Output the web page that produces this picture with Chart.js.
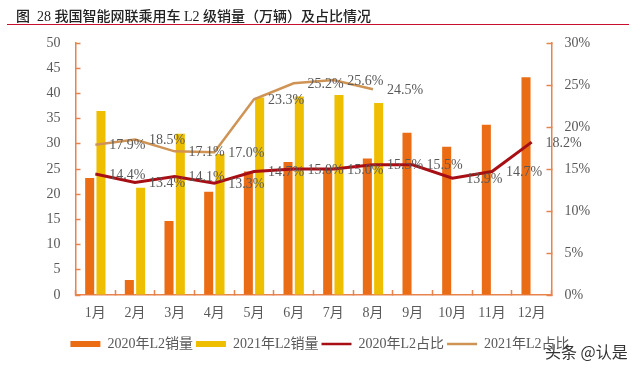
<!DOCTYPE html>
<html>
<head>
<meta charset="utf-8">
<script src="https://cdn.jsdelivr.net/npm/chart.js@4"></script>
<style>
  html, body { margin: 0; padding: 0; background: #fff; }
  #wrap { position: relative; width: 640px; height: 371px; overflow: hidden; }
  #chart { position: absolute; left: 0; top: 0; }
  #title {
    position: absolute; left: 16px; top: 5px; white-space: pre;
    font: 500 14px "Liberation Serif", "Noto Sans CJK SC"; color: #222;
  }
  #rule { position: absolute; left: 7px; top: 24px; width: 622px; height: 1px; background: #c8102e; }
  #mark {
    position: absolute; left: 545px; top: 339px; white-space: pre;
    font: 16px "Noto Sans CJK SC"; color: #333;
    text-shadow: 0 0 2px #fff;
  }
</style>
</head>
<body>
<div id="wrap">
  <canvas id="chart" width="640" height="371"></canvas>
  <div id="title">图  28 我国智能网联乘用车 L2 级销量（万辆）及占比情况</div>
  <div id="rule"></div>
  <div id="mark">头条 @认是</div>
</div>
<script>
const months = ["1月", "2月", "3月", "4月", "5月", "6月", "7月", "8月", "9月", "10月", "11月", "12月"];
const sales2020 = [23.2, 3, 14.7, 20.5, 24.5, 26.4, 25.2, 27.1, 32.2, 29.4, 33.8, 43.2];
const sales2021 = [36.5, 21.3, 32, 28, 39.2, 39.4, 39.7, 38.1];
const share2020 = [14.4, 13.4, 14.1, 13.3, 14.7, 15.0, 15.0, 15.5, 15.5, 13.9, 14.7, 18.2];
const share2021 = [17.9, 18.5, 17.1, 17.0, 23.3, 25.2, 25.6, 24.5];

const FONT = '"Liberation Serif", "Noto Sans CJK SC"';
const TEXT = "#595959";
const AXIS = "#e8834e";

// 占比數值標籤：都畫在折線點右側同一高度
const shareLabels = {
  id: "shareLabels",
  afterDatasetsDraw(chart) {
    const ctx = chart.ctx;
    ctx.save();
    ctx.font = "14px " + FONT;
    ctx.fillStyle = TEXT;
    ctx.textAlign = "center";
    ctx.textBaseline = "middle";
    chart.data.datasets.forEach((ds, i) => {
      if (ds.type !== "line") return;
      chart.getDatasetMeta(i).data.forEach((pt, j) => {
        ctx.fillText(ds.data[j].toFixed(1) + "%", pt.x + 32, pt.y + 1);
      });
    });
    ctx.restore();
  },
};

new Chart(document.getElementById("chart"), {
  data: {
    labels: months,
    datasets: [
      { type: "bar", label: "2020年L2销量", data: sales2020, backgroundColor: "#ea6c14", yAxisID: "y", order: 2,
        barPercentage: 0.8, categoryPercentage: 0.57 },
      { type: "bar", label: "2021年L2销量", data: sales2021, backgroundColor: "#eebf00", yAxisID: "y", order: 2,
        barPercentage: 0.8, categoryPercentage: 0.57 },
      { type: "line", label: "2020年L2占比", data: share2020, borderColor: "#a80f14", backgroundColor: "#a80f14",
        borderWidth: 3, pointRadius: 0, tension: 0, yAxisID: "y2", order: 1 },
      { type: "line", label: "2021年L2占比", data: share2021, borderColor: "#cf9455", backgroundColor: "#cf9455",
        borderWidth: 2.5, pointRadius: 0, tension: 0, yAxisID: "y2", order: 1 },
    ],
  },
  options: {
    responsive: false,
    animation: false,
    layout: { padding: { top: 43, left: 0, right: 0, bottom: 10 } },
    plugins: {
      title: { display: false },
      tooltip: { enabled: false },
      legend: {
        position: "bottom",
        labels: {
          font: { size: 14, family: FONT },
          color: TEXT,
          usePointStyle: true,
          pointStyleWidth: 30,
          boxHeight: 6,
          padding: 3,
          generateLabels(chart) {
            return chart.data.datasets.map((ds, i) => ({
              text: ds.label,
              datasetIndex: i,
              fillStyle: ds.backgroundColor,
              strokeStyle: ds.backgroundColor,
              fontColor: TEXT,
              lineWidth: ds.type === "line" ? 2.5 : 0,
              pointStyle: ds.type === "line" ? "line" : "rect",
            }));
          },
        },
      },
    },
    scales: {
      x: {
        grid: { drawOnChartArea: false, tickLength: -5, tickColor: AXIS, tickWidth: 1.5 },
        border: { color: AXIS, width: 1.5 },
        ticks: { color: TEXT, font: { size: 14, family: FONT }, padding: 15, maxRotation: 0, autoSkip: false },
        afterFit(s) { s.height = 39; },
      },
      y: {
        position: "left",
        min: 0,
        max: 50,
        grid: { drawOnChartArea: false, tickLength: -5, tickColor: AXIS, tickWidth: 1.5 },
        border: { color: AXIS, width: 1.5 },
        ticks: { stepSize: 5, color: TEXT, font: { size: 14, family: FONT }, padding: 20 },
        afterFit(s) { s.width = 75.5; },
      },
      y2: {
        position: "right",
        min: 0,
        max: 30,
        grid: { drawOnChartArea: false, tickLength: -5, tickColor: AXIS, tickWidth: 1.5 },
        border: { color: AXIS, width: 1.5 },
        ticks: { stepSize: 5, color: TEXT, font: { size: 14, family: FONT }, padding: 18, callback: (v) => v + "%" },
        afterFit(s) { s.width = 88.5; },
      },
    },
  },
  plugins: [shareLabels],
});
</script>
</body>
</html>
